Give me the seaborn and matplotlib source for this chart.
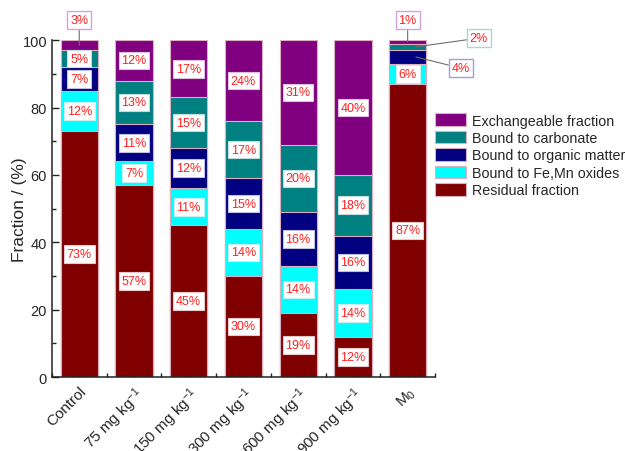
import numpy as np
import pandas as pd
import matplotlib
matplotlib.use("Agg")
import matplotlib.pyplot as plt
import seaborn as sns
from matplotlib.patches import Patch
from matplotlib.ticker import MultipleLocator

categories = ["Control", "75 mg kg$^{-1}$", "150 mg kg$^{-1}$", "300 mg kg$^{-1}$",
              "600 mg kg$^{-1}$", "900 mg kg$^{-1}$", "M$_0$"]
residual = [73, 57, 45, 30, 19, 12, 87]
fe_mn_oxides = [12, 7, 11, 14, 14, 14, 6]
organic_matter = [7, 11, 12, 15, 16, 16, 4]
carbonate = [5, 13, 15, 17, 20, 18, 2]
exchangeable = [3, 12, 17, 24, 31, 40, 1]

fraction_names = ["Residual fraction", "Bound to Fe,Mn oxides", "Bound to organic matter",
                  "Bound to carbonate", "Exchangeable fraction"]
fraction_values = [residual, fe_mn_oxides, organic_matter, carbonate, exchangeable]
fraction_colors = ["#800000", "#00FFFF", "#000080", "#008080", "#800080"]

sns.set_theme(style="ticks")
plt.rcParams["font.family"] = ["Liberation Sans", "DejaVu Sans"]
plt.rcParams["mathtext.fontset"] = "custom"
plt.rcParams["mathtext.rm"] = "Liberation Sans"
plt.rcParams["mathtext.it"] = "Liberation Sans"

fig = plt.figure(figsize=(6.25, 4.52), dpi=100)
ax = fig.add_axes([0.083, 0.1637, 0.613, 0.7453])

vals = np.array(fraction_values, dtype=float)
cum = np.cumsum(vals, axis=0)
bottoms = cum - vals

# Stacked bars: draw cumulative totals from the top layer down
for i in range(len(fraction_names) - 1, -1, -1):
    df = pd.DataFrame({"category": categories, "total": cum[i]})
    sns.barplot(data=df, x="category", y="total", color=fraction_colors[i],
                saturation=1, width=0.68, edgecolor="#d9b0c0", linewidth=0.8,
                ax=ax, order=categories)

red = "#FF2020"
box_edges = ["#e8c8c8", "#c8f0f0", "#c0c0e0", "#c0dede", "#e0c0e0"]

# Value labels; small segments get callouts outside the bar
callouts = {
    (0, 4): (0.0, 106.0),
    (6, 4): (6.0, 106.0),
    (6, 3): (7.3, 100.6),
    (6, 2): (6.97, 91.7),
}
callout_edges = {4: "#d8a0d8", 3: "#a8d8d8", 2: "#a0a0e0"}
for j in range(len(categories)):
    for i in range(len(fraction_names)):
        v = vals[i, j]
        mid = bottoms[i, j] + v / 2
        label = f"{int(v)}%"
        if (j, i) in callouts:
            tx, ty = callouts[(j, i)]
            ax.annotate(label, xy=(j + (0.0 if i == 4 else 0.15), mid),
                        xytext=(tx, ty), textcoords="data",
                        ha="center", va="center", fontsize=9, color=red,
                        annotation_clip=False,
                        bbox=dict(boxstyle="square,pad=0.22", fc="white",
                                  ec=callout_edges[i], lw=1.0),
                        arrowprops=dict(arrowstyle="-", color="#707070", lw=0.8,
                                        shrinkA=0, shrinkB=0))
        else:
            ax.text(j, mid, label, ha="center", va="center", fontsize=9, color=red,
                    bbox=dict(boxstyle="square,pad=0.22", fc="white",
                              ec=box_edges[i], lw=0.8))

ax.set_xlim(-0.5, 6.5)
ax.set_ylim(0, 100)
ax.yaxis.set_major_locator(MultipleLocator(20))
ax.yaxis.set_minor_locator(MultipleLocator(10))
ax.xaxis.set_minor_locator(MultipleLocator(0.5))
ax.tick_params(axis="both", which="major", direction="in", length=5, width=1,
               color="#222222")
ax.tick_params(axis="both", which="minor", direction="in", length=3, width=1,
               color="#222222")
ax.tick_params(axis="y", which="major", labelsize=10.5)
ax.tick_params(axis="x", which="major", labelsize=11, pad=5)
plt.setp(ax.get_xticklabels(), rotation=45, ha="right", rotation_mode="anchor")
sns.despine(ax=ax)
for s in ["left", "bottom"]:
    ax.spines[s].set_linewidth(1.1)
    ax.spines[s].set_color("#222222")
ax.set_xlabel("")
ax.set_ylabel("Fraction / (%)", fontsize=12.5)
ax.yaxis.set_label_coords(-0.065, 0.5)

handles = [Patch(facecolor=fraction_colors[i], edgecolor="#d9b0c0", lw=0.8,
                 label=fraction_names[i]) for i in range(4, -1, -1)]
ax.legend(handles=handles, loc="upper left", bbox_to_anchor=(0.985, 0.80),
          frameon=False, fontsize=10.3, handlelength=2.2, handleheight=1.0,
          labelspacing=0.22, handletextpad=0.4, borderaxespad=0)

fig.savefig("out.png", dpi=100)
